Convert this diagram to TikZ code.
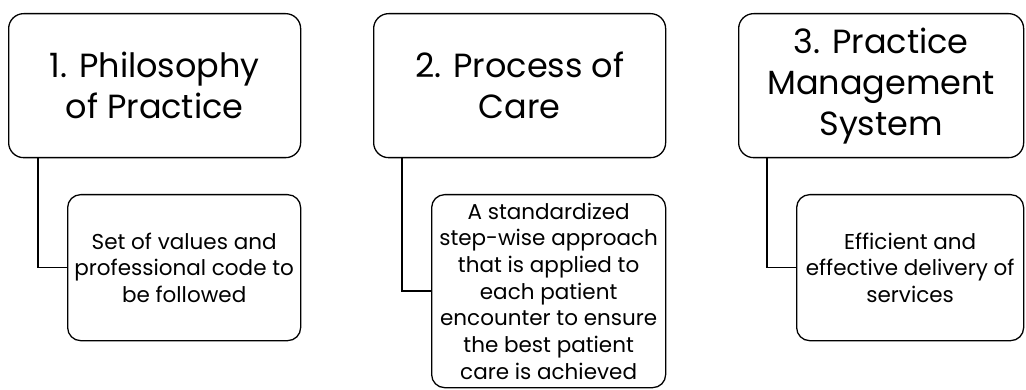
\documentclass[tikz,border=0pt]{standalone}
\usepackage{fontspec}
\setmainfont{Poppins}
\begin{document}
\begin{tikzpicture}[x=1pt,y=-1pt,
  topbox/.style={draw=black, line width=1.3pt, rounded corners=15pt, fill=white,
    anchor=north west, inner sep=0pt, align=center,
    font=\fontsize{33.5}{41}\selectfont},
  subbox/.style={draw=black, line width=1.3pt, rounded corners=13pt, fill=white,
    anchor=north west, inner sep=0pt, align=center,
    font=\fontsize{21.5}{26.7}\selectfont},
  link/.style={draw=black, line width=1.3pt}]
\useasboundingbox (0,0) rectangle (1026,390);
\node[topbox, minimum width=292pt, minimum height=144pt] (t1) at (8,13) {1. Philosophy\\of Practice};
\node[topbox, minimum width=292pt, minimum height=144pt] (t2) at (373,13) {2. Process of\\Care};
\node[topbox, minimum width=285pt, minimum height=144pt] (t3) at (738,13) {3. Practice\\Management\\System};
\node[subbox, minimum width=233pt, minimum height=146pt] (s1) at (67,194) {Set of values and\\professional code to\\be followed};
\node[subbox, minimum width=234pt, minimum height=193pt] (s2) at (431,194) {A standardized\\step-wise approach\\that is applied to\\each patient\\encounter to ensure\\the best patient\\care is achieved};
\node[subbox, minimum width=227pt, minimum height=146pt] (s3) at (796,194) {Efficient and\\effective delivery of\\services};
\draw[link] (t1.south west) ++(30,0) |- (s1.west);
\draw[link] (t2.south west) ++(29,0) |- (s2.west);
\draw[link] (t3.south west) ++(29,0) |- (s3.west);
\end{tikzpicture}
\end{document}
